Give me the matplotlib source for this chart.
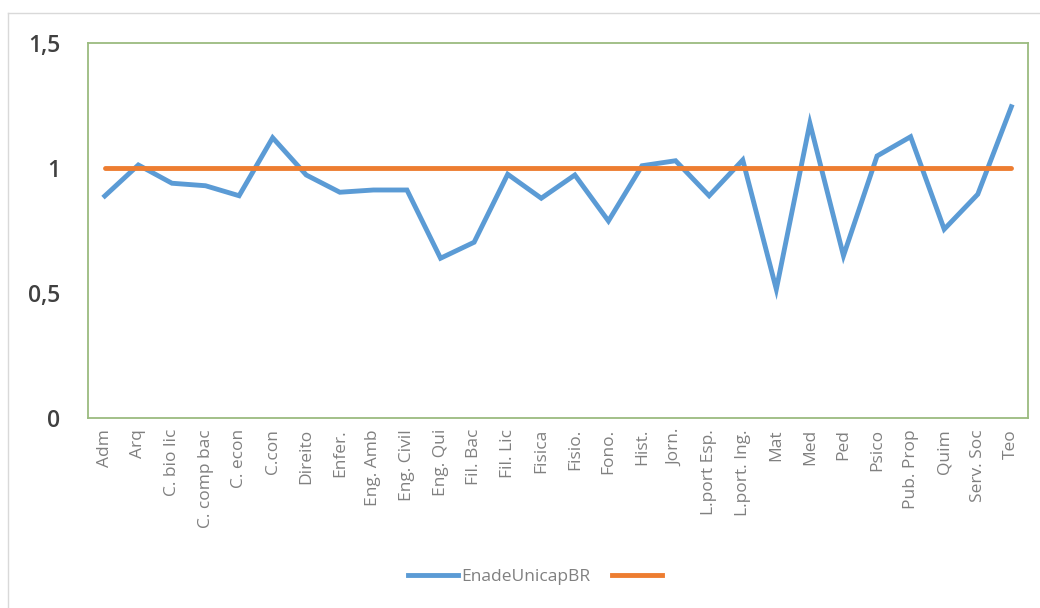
import matplotlib.pyplot as plt
from matplotlib.lines import Line2D
from matplotlib.ticker import FixedLocator, FixedFormatter

cursos = ['Adm', 'Arq', 'C. bio lic', 'C. comp bac', 'C. econ', 'C.con', 'Direito',
          'Enfer.', 'Eng. Amb', 'Eng. Civil', 'Eng. Qui', 'Fil. Bac', 'Fil. Lic',
          'Fisica', 'Fisio.', 'Fono.', 'Hist.', 'Jorn.', 'L.port Esp.',
          'L.port. Ing.', 'Mat', 'Med', 'Ped', 'Psico', 'Pub. Prop', 'Quim',
          'Serv. Soc', 'Teo']
enade_unicap_br = [0.888, 1.012, 0.939, 0.929, 0.889, 1.121, 0.972, 0.903, 0.912,
                   0.912, 0.639, 0.703, 0.975, 0.879, 0.972, 0.788, 1.009, 1.029,
                   0.889, 1.032, 0.515, 1.179, 0.649, 1.048, 1.125, 0.755, 0.895,
                   1.245]
referencia = [1.0] * len(cursos)
y_ticks = [0, 0.5, 1, 1.5]
y_labels = ['0', '0,5', '1', '1,5']

plt.rcParams['font.family'] = ['Open Sans', 'DejaVu Sans']

fig = plt.figure(figsize=(10.4, 6.08), dpi=100)
ax = fig.add_axes([0.0846, 0.3125, 0.904, 0.6168])

x = list(range(len(cursos)))
ax.plot(x, enade_unicap_br, color='#5B9BD5', linewidth=3.5, solid_joinstyle='miter',
        label='EnadeUnicapBR')
ax.plot(x, referencia, color='#ED7D31', linewidth=3.5, solid_capstyle='round',
        label=' ')

ax.set_xlim(-0.5, len(cursos) - 0.5)
ax.set_ylim(0, 1.5)
ax.xaxis.set_major_locator(FixedLocator(x))
ax.xaxis.set_major_formatter(FixedFormatter(cursos))
ax.set_yticks(y_ticks)
ax.set_yticklabels(y_labels)
ax.tick_params(axis='x', length=0, rotation=90, labelsize=12.5, labelcolor='#808080', pad=8)
ax.tick_params(axis='y', length=0, labelsize=16.5, labelcolor='#404040', pad=20)
for lbl in ax.get_yticklabels():
    lbl.set_fontweight('semibold')

for s in ax.spines.values():
    s.set_color('#9BBB7F')
    s.set_linewidth(1.3)

handles = [Line2D([], [], color='#5B9BD5', linewidth=3.5),
           Line2D([], [], color='#ED7D31', linewidth=3.5)]
fig.legend(handles, ['EnadeUnicapBR', ''], loc='center', bbox_to_anchor=(0.516, 0.051),
           ncol=2, frameon=False, fontsize=12.5, labelcolor='#808080',
           handlelength=2.9, columnspacing=1.2, handletextpad=0.2)

# borda externa clara
fig.add_artist(Line2D([8 / 1040, 1], [1 - 13 / 608, 1 - 13 / 608], color='#D9D9D9', linewidth=1))
fig.add_artist(Line2D([8 / 1040, 8 / 1040], [0, 1 - 13 / 608], color='#D9D9D9', linewidth=1))

fig.savefig('out.png', dpi=100)
